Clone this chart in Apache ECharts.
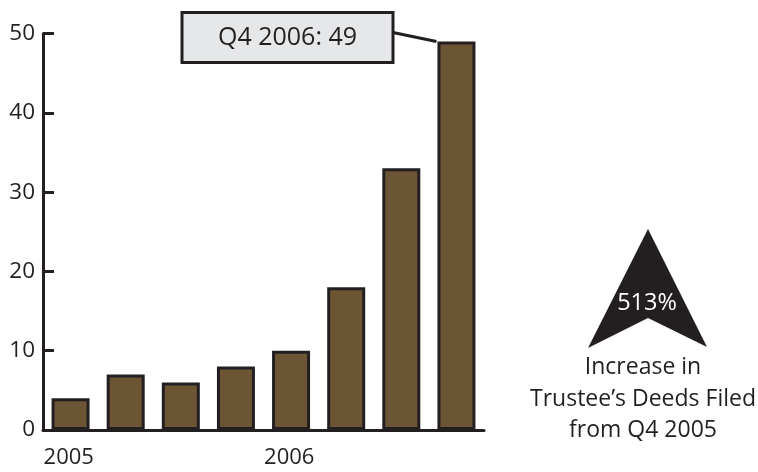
<!DOCTYPE html>
<html>
<head>
<meta charset="utf-8">
<script src="https://cdn.jsdelivr.net/npm/echarts@6/dist/echarts.min.js"></script>
<style>
  html, body { margin: 0; padding: 0; background: #ffffff; }
  #chart { width: 758px; height: 472px; }
</style>
</head>
<body>
<div id="chart"></div>
<script>
// Trustee's deeds filed per quarter, Q1 2005 .. Q4 2006
const quarters = ['Q1 2005', 'Q2 2005', 'Q3 2005', 'Q4 2005', 'Q1 2006', 'Q2 2006', 'Q3 2006', 'Q4 2006'];
const yearLabels = ['2005', '', '', '', '2006', '', '', ''];
const deeds = [4, 7, 6, 8, 10, 18, 33, 49];
const yTicks = [0, 10, 20, 30, 40, 50];
const increasePct = '513%';
const noteLines = ['Increase in', 'Trustee\u2019s Deeds Filed', 'from Q4 2005'];

const FONT = '"Open Sans", "Noto Sans", sans-serif';
const INK = '#231f20';
const BAR = '#6b5535';

const chart = echarts.init(document.getElementById('chart'), null, { renderer: 'canvas' });

const option = {
  backgroundColor: '#ffffff',
  animation: false,
  grid: { left: 43, right: 274, top: 33.5, bottom: 42, containLabel: false },
  xAxis: {
    type: 'category',
    data: quarters,
    boundaryGap: true,
    axisLine: { show: true, lineStyle: { color: INK, width: 3 } },
    axisTick: { show: false },
    axisLabel: {
      interval: 0,
      margin: 17,
      formatter: (v, i) => yearLabels[i] ? '{a|' + yearLabels[i] + '}' : '',
      rich: {
        a: { width: 54, align: 'left', fontFamily: FONT, fontSize: 22, color: INK }
      }
    },
    splitLine: { show: false }
  },
  yAxis: {
    type: 'value',
    min: yTicks[0],
    max: yTicks[yTicks.length - 1],
    interval: yTicks[1] - yTicks[0],
    axisLine: { show: true, lineStyle: { color: INK, width: 3 } },
    axisTick: { show: true, inside: true, length: 11, lineStyle: { color: INK, width: 3 } },
    axisLabel: { margin: 8, fontFamily: FONT, fontSize: 22.5, color: INK },
    splitLine: { show: false }
  },
  series: [{
    type: 'bar',
    data: deeds,
    barWidth: 38,
    itemStyle: { color: BAR, borderColor: INK, borderWidth: 3 }
  }]
};

chart.setOption(option);

// Callout box tied to the last bar, and the arrow note on the right
const lastIdx = deeds.length - 1;
const lastTop = chart.convertToPixel({ seriesIndex: 0 }, [lastIdx, deeds[lastIdx]]);
const barLeft = lastTop[0] - 19;
const barTopY = lastTop[1];

const arrowTip = [648, 229];
chart.setOption({
  graphic: [
    {
      type: 'line',
      shape: { x1: 393, y1: 32.5, x2: barLeft - 1, y2: barTopY },
      style: { stroke: INK, lineWidth: 3 },
      z: 10
    },
    {
      type: 'rect',
      shape: { x: 182, y: 12.5, width: 211, height: 50 },
      style: { fill: '#e6e7e8', stroke: INK, lineWidth: 3 },
      z: 11
    },
    {
      type: 'text',
      x: 287.5, y: 37.5,
      style: {
        text: quarters[lastIdx] + ': ' + deeds[lastIdx],
        fontFamily: FONT, fontSize: 25, fill: INK,
        align: 'center', verticalAlign: 'middle'
      },
      z: 12
    },
    {
      type: 'polygon',
      shape: { points: [arrowTip, [707, 347], [648, 318], [588, 348]] },
      style: { fill: INK },
      z: 10
    },
    {
      type: 'text',
      x: 647, y: 303,
      style: {
        text: increasePct, fontFamily: FONT, fontSize: 23.5, fill: '#ffffff',
        align: 'center', verticalAlign: 'middle'
      },
      z: 11
    },
    {
      type: 'text',
      x: 643, y: 399,
      style: {
        text: noteLines.join('\n'), fontFamily: FONT, fontSize: 23, fill: INK,
        lineHeight: 31.5, align: 'center', verticalAlign: 'middle'
      },
      z: 11
    }
  ]
});
</script>
</body>
</html>
